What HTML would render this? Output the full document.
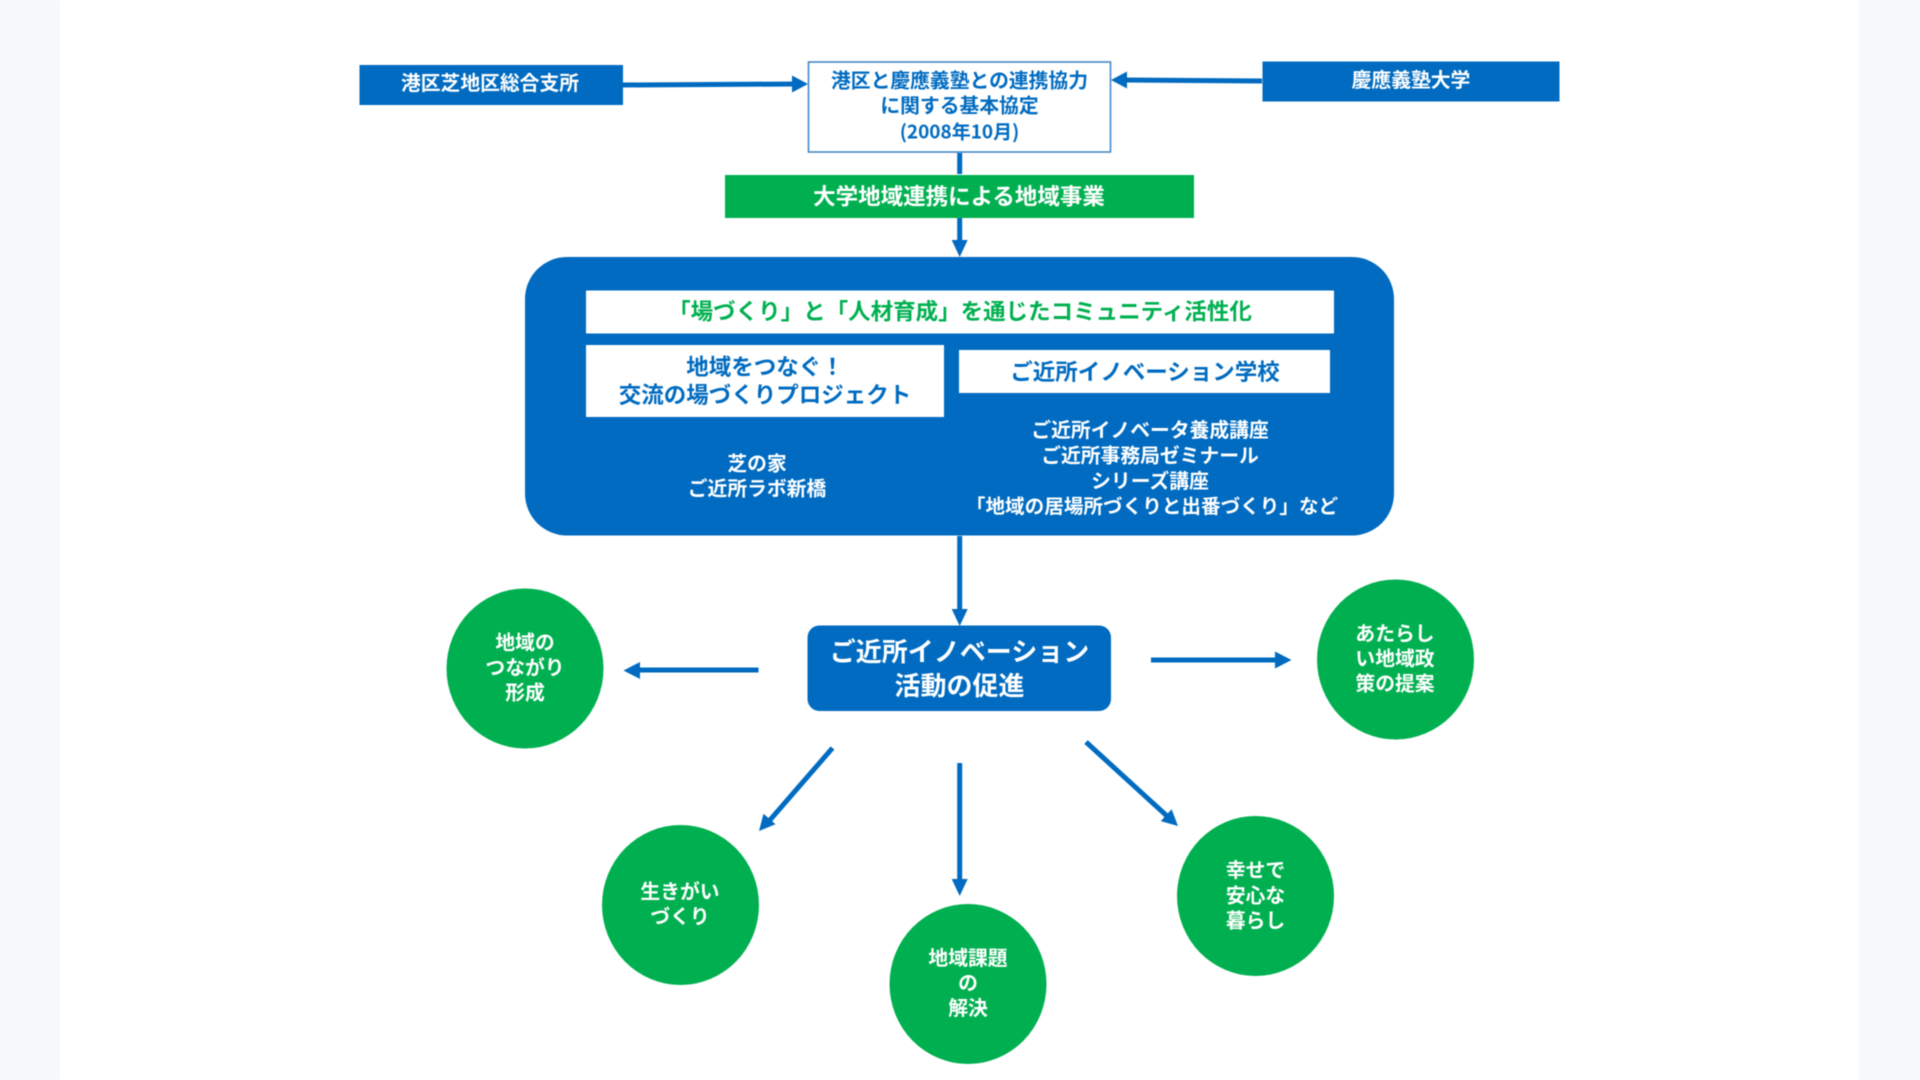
<!DOCTYPE html>
<html lang="ja"><head><meta charset="utf-8"><title>ご近所イノベーション</title>
<style>
html,body{margin:0;padding:0;width:1920px;height:1080px;overflow:hidden;background:#fff}
svg{display:block;filter:blur(0.4px)}
text{font-family:"Liberation Sans","Noto Sans CJK JP",sans-serif;font-weight:700;text-anchor:middle;dominant-baseline:auto}
.w{fill:#fff}.b{fill:#006bc0}.g{fill:#00b050}
</style></head><body>
<svg width="1920" height="1080" viewBox="0 0 1920 1080" xmlns="http://www.w3.org/2000/svg">
<rect x="0" y="0" width="60" height="1080" fill="#f6f8fc"/>
<rect x="1859" y="0" width="61" height="1080" fill="#f6f8fc"/>

<!-- connectors -->
<g stroke="#006bc0" fill="none">
<line x1="623" y1="85" x2="795" y2="84" stroke-width="5"/>
<line x1="1262" y1="81" x2="1124" y2="80" stroke-width="5"/>
<line x1="959.7" y1="153" x2="959.7" y2="174" stroke-width="5"/>
<line x1="959.7" y1="218" x2="959.7" y2="245" stroke-width="5"/>
<line x1="959.7" y1="536" x2="959.7" y2="612" stroke-width="5"/>
<line x1="758.5" y1="670" x2="636" y2="670" stroke-width="5"/>
<line x1="1151" y1="660" x2="1280" y2="660" stroke-width="5"/>
<line x1="832.5" y1="748" x2="770" y2="820" stroke-width="5"/>
<line x1="959.7" y1="763" x2="959.7" y2="883" stroke-width="5"/>
<line x1="1086" y1="742" x2="1167" y2="816" stroke-width="5"/>
</g>
<g fill="#006bc0">
<polygon points="808,84 792,75.5 792,92.5"/>
<polygon points="1111,80 1127,71.5 1127,88.5"/>
<polygon points="959.7,257 951.7,240 967.7,240"/>
<polygon points="959.7,626 951.7,609 967.7,609"/>
<polygon points="623.5,670.5 640,662 640,679"/>
<polygon points="1291.5,660 1275,651.5 1275,668.5"/>
<polygon points="759,831 775.5,824.3 763.5,813.7"/>
<polygon points="959.7,896 951.7,879 967.7,879"/>
<polygon points="1178,826 1160.8,821.1 1171.6,809.3"/>
</g>

<!-- top row -->
<rect x="359.5" y="65" width="263.5" height="40" fill="#006bc0"/>
<text x="490" y="90" font-size="19.8" class="w">港区芝地区総合支所</text>
<rect x="1262.5" y="61.5" width="297" height="40" fill="#006bc0"/>
<text x="1411" y="87" font-size="19.8" class="w">慶應義塾大学</text>
<rect x="808.5" y="62" width="302" height="90" fill="#fff" stroke="#3a82c4" stroke-width="1.5"/>
<text x="959.5" y="87.5" font-size="19.8" class="b">港区と慶應義塾との連携協力</text>
<text x="959.5" y="112.5" font-size="19.8" class="b">に関する基本協定</text>
<text x="959.5" y="138.5" font-size="19" class="b" style="font-family:'Noto Sans CJK JP',sans-serif">(2008年10月)</text>

<rect x="725" y="175" width="469" height="43" fill="#00b050"/>
<text x="959" y="204.5" font-size="22.5" class="w">大学地域連携による地域事業</text>

<!-- main panel -->
<rect x="525" y="257" width="869" height="278.5" rx="42" ry="42" fill="#006bc0"/>
<rect x="586" y="290.5" width="748" height="43" fill="#fff"/>
<text x="960" y="319.5" font-size="22.5" class="g">「場づくり」と「人材育成」を通じたコミュニティ活性化</text>
<rect x="586" y="345" width="358" height="72" fill="#fff"/>
<text x="765" y="375" font-size="22.5" class="b">地域をつなぐ！</text>
<text x="765" y="403" font-size="22.5" class="b">交流の場づくりプロジェクト</text>
<rect x="959" y="350" width="371" height="43" fill="#fff"/>
<text x="1145" y="380" font-size="22.5" class="b">ご近所イノベーション学校</text>
<text x="757" y="470.5" font-size="19.8" class="w">芝の家</text>
<text x="757" y="495.5" font-size="19.8" class="w">ご近所ラボ新橋</text>
<text x="1150" y="437" font-size="19.8" class="w">ご近所イノベータ養成講座</text>
<text x="1150" y="462.5" font-size="19.8" class="w">ご近所事務局ゼミナール</text>
<text x="1150" y="488" font-size="19.8" class="w">シリーズ講座</text>
<text x="1152" y="513" font-size="19.6" class="w">「地域の居場所づくりと出番づくり」など</text>

<!-- centre node -->
<rect x="807.5" y="625.5" width="303.5" height="85.5" rx="12" ry="12" fill="#006bc0"/>
<text x="959.5" y="661" font-size="26" class="w">ご近所イノベーション</text>
<text x="959.5" y="695" font-size="26" class="w">活動の促進</text>

<!-- circles -->
<ellipse cx="525" cy="668.5" rx="78.5" ry="80" fill="#00b050"/>
<text x="525" y="649.5" font-size="19.8" class="w">地域の</text>
<text x="525" y="674.5" font-size="19.8" class="w">つながり</text>
<text x="525" y="699.5" font-size="19.8" class="w">形成</text>

<ellipse cx="1395.5" cy="659.5" rx="78.5" ry="80" fill="#00b050"/>
<text x="1395" y="640.5" font-size="19.8" class="w">あたらし</text>
<text x="1395" y="665.5" font-size="19.8" class="w">い地域政</text>
<text x="1395" y="690.5" font-size="19.8" class="w">策の提案</text>

<ellipse cx="680.5" cy="905" rx="78.5" ry="80" fill="#00b050"/>
<text x="680" y="898.5" font-size="19.8" class="w">生きがい</text>
<text x="680" y="923.5" font-size="19.8" class="w">づくり</text>

<ellipse cx="968" cy="984" rx="78.5" ry="80" fill="#00b050"/>
<text x="968" y="965" font-size="19.8" class="w">地域課題</text>
<text x="968" y="990" font-size="19.8" class="w">の</text>
<text x="968" y="1015" font-size="19.8" class="w">解決</text>

<ellipse cx="1255.5" cy="896" rx="78.5" ry="80" fill="#00b050"/>
<text x="1255.5" y="877" font-size="19.8" class="w">幸せで</text>
<text x="1255.5" y="902.5" font-size="19.8" class="w">安心な</text>
<text x="1255.5" y="927.5" font-size="19.8" class="w">暮らし</text>
</svg>
</body></html>
